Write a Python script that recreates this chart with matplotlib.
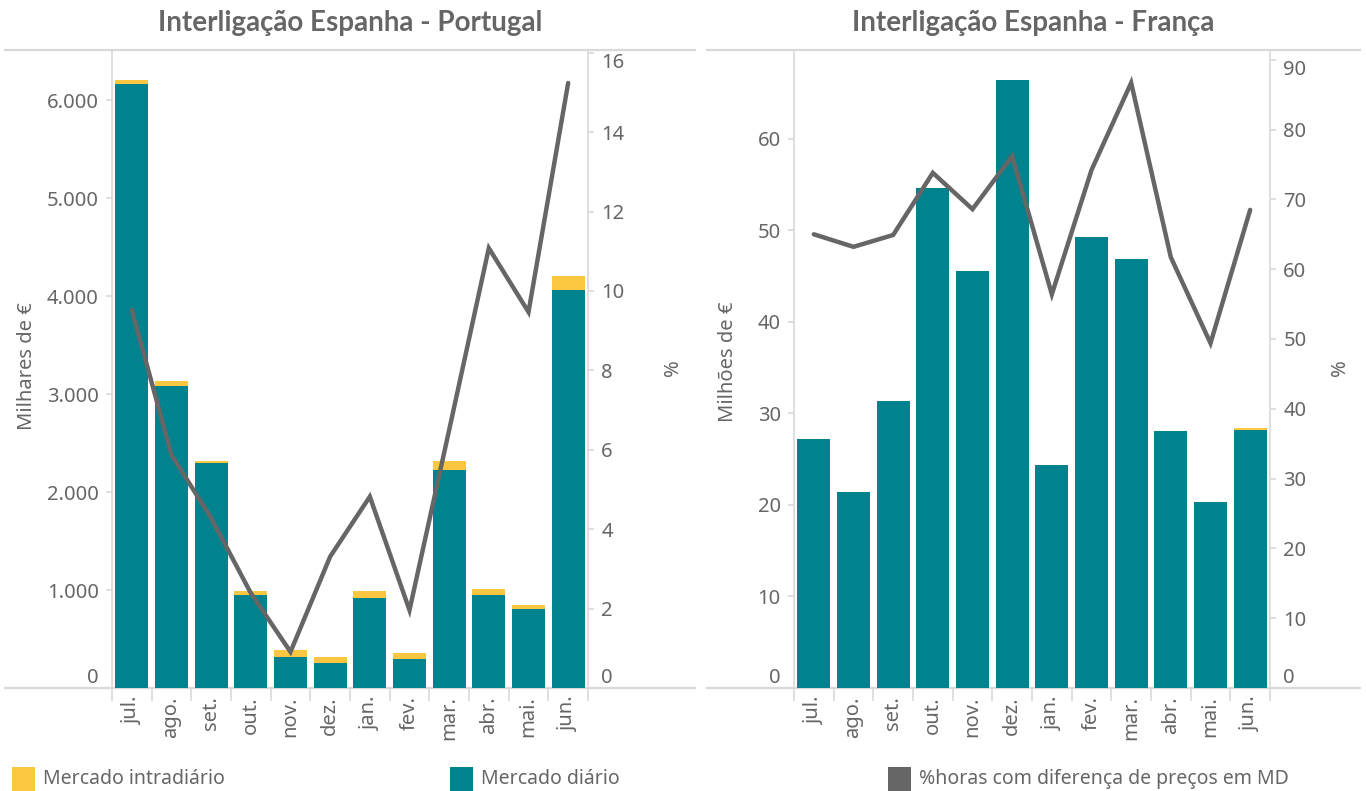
import matplotlib
matplotlib.use("Agg")
import matplotlib.pyplot as plt
from matplotlib.patches import Rectangle
import numpy as np

plt.rcParams['font.family'] = ['Noto Sans', 'DejaVu Sans']

# ---- data ----
months = ["jul.", "ago.", "set.", "out.", "nov.", "dez.",
          "jan.", "fev.", "mar.", "abr.", "mai.", "jun."]

# Espanha - Portugal (milhares de €)
pt_diario = [6165, 3083, 2297, 949, 316, 255, 922, 296, 2225, 949, 806, 4062]
pt_intradiario = [41, 51, 20, 41, 72, 61, 68, 61, 92, 61, 41, 143]
pt_pct_horas = [9.52, 5.87, 4.28, 2.39, 0.91, 3.31, 4.82, 1.96, 6.5, 11.08, 9.47, 15.24]

# Espanha - França (milhões de €)
fr_diario = [27.2, 21.4, 31.3, 54.6, 45.6, 66.4, 24.4, 49.3, 46.9, 28.1, 20.3, 28.2]
fr_intradiario = [0, 0, 0, 0, 0, 0, 0, 0, 0, 0, 0, 0.2]
fr_pct_horas = [65.0, 63.2, 64.9, 73.8, 68.6, 76.2, 56.4, 74.2, 86.7, 61.7, 49.4, 68.5]

pt_ticks = [0, 1000, 2000, 3000, 4000, 5000, 6000]
pt_tick_labels = ["0", "1.000", "2.000", "3.000", "4.000", "5.000", "6.000"]
pt_pct_ticks = [0, 2, 4, 6, 8, 10, 12, 14, 16]
fr_ticks = [0, 10, 20, 30, 40, 50, 60]
fr_pct_ticks = [0, 10, 20, 30, 40, 50, 60, 70, 80, 90]

TEAL = "#00838f"
YELLOW = "#fcc740"
LINEGRAY = "#666666"
TEXT = "#666666"
AXIS = "#d9d9d9"
TICK_FS = 14.5

W, H = 1366, 791
fig = plt.figure(figsize=(W / 100, H / 100), dpi=100)
fig.patch.set_facecolor("white")


def px_axes(x0, x1, y_top, y_bot):
    return fig.add_axes([x0 / W, 1 - y_bot / H, (x1 - x0) / W, (y_bot - y_top) / H])


def draw_panel(x0, x1, diario, intra, pct, yticks, yticklabels, ylim,
               pticks, plim, ext_left, ext_right):
    ax = px_axes(x0, x1, 50, 688)
    x = np.arange(len(months))
    ax.bar(x, diario, width=0.84, color=TEAL, zorder=2)
    ax.bar(x, intra, bottom=diario, width=0.84, color=YELLOW, zorder=2)
    ax.set_xlim(-0.5, len(months) - 0.5)
    ax.set_ylim(*ylim)

    for s in ("top", "bottom", "right"):
        ax.spines[s].set_visible(False)
    ax.spines["left"].set_color(AXIS)
    ax.spines["left"].set_linewidth(1.2)

    # baseline and top rule extending across the panel
    ax.axhline(ylim[0], xmin=ext_left, xmax=ext_right, color=AXIS, lw=1.6,
               clip_on=False, zorder=1)
    ax.axhline(ylim[1], xmin=ext_left, xmax=ext_right, color=AXIS, lw=1.6,
               clip_on=False, zorder=1)

    ax.set_yticks(yticks)
    ax.set_yticklabels(yticklabels)
    ax.tick_params(axis="y", colors=AXIS, labelcolor=TEXT, labelsize=TICK_FS,
                   length=4.5, width=1.2, pad=5)

    ax.set_xticks(x)
    ax.set_xticklabels(months, rotation=90, va="top", ha="center")
    ax.set_xticks(np.arange(len(months) + 1) - 0.5, minor=True)
    ax.tick_params(axis="x", which="major", length=0, pad=6,
                   labelcolor=TEXT, labelsize=TICK_FS)
    ax.tick_params(axis="x", which="minor", length=9, width=1.2, color=AXIS)

    ax2 = ax.twinx()
    ax2.plot(x, pct, color=LINEGRAY, lw=3.2, solid_capstyle="round",
             solid_joinstyle="miter", zorder=3)
    ax2.set_ylim(*plim)
    for s in ("top", "bottom", "left"):
        ax2.spines[s].set_visible(False)
    ax2.spines["right"].set_color(AXIS)
    ax2.spines["right"].set_linewidth(1.2)
    ax2.set_yticks(pticks)
    ax2.set_yticklabels([str(t) for t in pticks])
    ax2.tick_params(axis="y", colors=AXIS, labelcolor=TEXT, labelsize=TICK_FS,
                    length=4.5, width=1.2, pad=5)

    # keep the extreme labels inside the plot frame
    for a in (ax, ax2):
        labels = a.get_yticklabels()
        labels[0].set_verticalalignment("bottom")
        top_val = a.get_yticks()[-1]
        lo, hi = a.get_ylim()
        if (hi - top_val) / (hi - lo) < 0.03:
            labels[-1].set_verticalalignment("top")
    return ax, ax2


draw_panel(112, 588, pt_diario, pt_intradiario, pt_pct_horas,
           pt_ticks, pt_tick_labels, (0, 6512), pt_pct_ticks, (0, 16.07),
           -0.225, 1.225)
draw_panel(794, 1270, fr_diario, fr_intradiario, fr_pct_horas,
           fr_ticks, [str(t) for t in fr_ticks], (0, 69.7), fr_pct_ticks, (0, 91.4),
           -0.183, 1.19)

# titles
title_kw = dict(ha="center", va="center", fontsize=20, fontweight="bold",
                color=TEXT, family=["Lato", "DejaVu Sans"])
fig.text(350 / W, 1 - 23 / H, "Interligação Espanha - Portugal", **title_kw)
fig.text(1033 / W, 1 - 23 / H, "Interligação Espanha - França", **title_kw)

# axis titles
fig.text(27 / W, 1 - 366 / H, "Milhares de €", rotation=90, ha="center",
         va="center", fontsize=14.5, color=TEXT)
fig.text(673 / W, 1 - 368 / H, "%", rotation=90, ha="center",
         va="center", fontsize=14.5, color=TEXT)
fig.text(728 / W, 1 - 362 / H, "Milhões de €", rotation=90, ha="center",
         va="center", fontsize=14.5, color=TEXT)
fig.text(1340 / W, 1 - 368 / H, "%", rotation=90, ha="center",
         va="center", fontsize=14.5, color=TEXT)

# legend
legend_items = [("Mercado intradiário", YELLOW, 12),
                ("Mercado diário", TEAL, 450),
                ("%horas com diferença de preços em MD", LINEGRAY, 888)]
for label, color, lx in legend_items:
    fig.add_artist(Rectangle((lx / W, 1 - 791 / H), 23 / W, 24 / H,
                             transform=fig.transFigure, color=color, lw=0))
    fig.text((lx + 31) / W, 1 - 779 / H, label, ha="left", va="center",
             fontsize=14, color=TEXT)

fig.savefig("out.png", dpi=100, facecolor="white")
